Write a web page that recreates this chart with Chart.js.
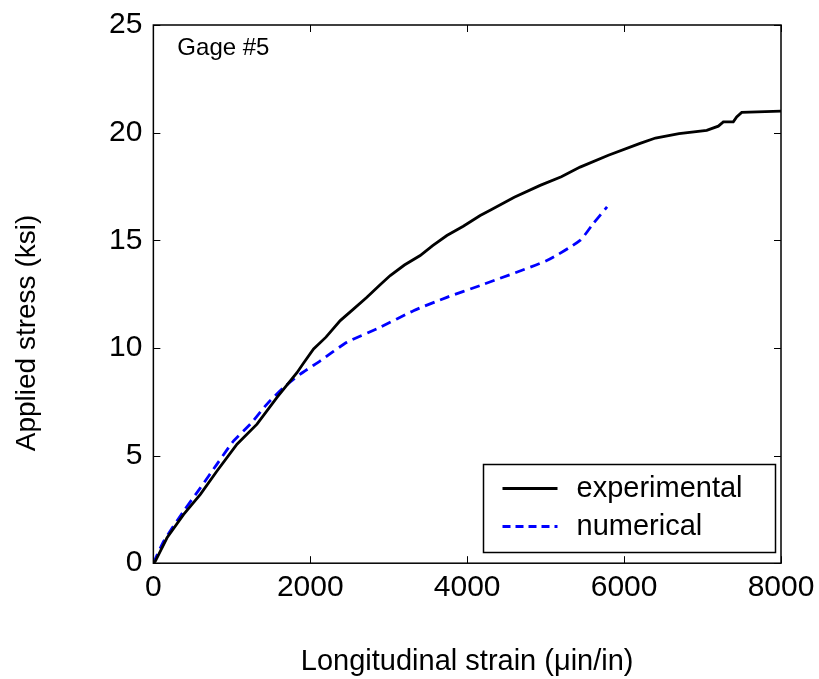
<!DOCTYPE html>
<html>
<head>
<meta charset="utf-8">
<script src="https://cdn.jsdelivr.net/npm/chart.js@4"></script>
<style>
  html, body { margin: 0; padding: 0; background: #fff; }
  #wrap { width: 819px; height: 679px; }
</style>
</head>
<body>
<div id="wrap"><canvas id="c" width="819" height="679"></canvas></div>
<script>
// data
const expStrain = [0, 25, 174, 386, 599, 811, 1066, 1321, 1576, 1830, 1915, 2042, 2200, 2382, 2550, 2722, 2880, 3019, 3200, 3401, 3560, 3741, 3950, 4166, 4293, 4600, 4930, 5200, 5439, 5800, 6204, 6400, 6700, 7053, 7201, 7265, 7392, 7435, 7499, 8000];
const expStress = [0, 0.09, 1.18, 2.27, 3.2, 4.28, 5.53, 6.46, 7.7, 8.85, 9.3, 9.95, 10.5, 11.27, 11.8, 12.35, 12.9, 13.36, 13.85, 14.29, 14.75, 15.22, 15.65, 16.15, 16.39, 17.0, 17.55, 17.95, 18.4, 18.95, 19.5, 19.75, 19.95, 20.11, 20.3, 20.5, 20.5, 20.73, 20.94, 21.0];
const numStrain = [0, 132, 386, 599, 811, 1023, 1236, 1448, 1660, 1873, 2127, 2467, 2892, 3316, 3741, 4166, 5015, 5439, 5605, 5783];
const numStress = [0, 1.02, 2.42, 3.5, 4.6, 5.68, 6.46, 7.39, 8.16, 8.78, 9.4, 10.26, 10.96, 11.73, 12.35, 12.9, 14.06, 15.0, 15.77, 16.55];
const xTicks = [0, 2000, 4000, 6000, 8000];
const yTicks = [0, 5, 10, 15, 20, 25];
const yTitle = 'Applied stress (ksi)';

const toPts = (xs, ys) => xs.map((x, i) => ({ x, y: ys[i] }));
const FONT = 'Liberation Sans, Arial, sans-serif';

// box around the plot, inward ticks on all sides, y title (sits low in the original), corner label and legend
const frame = {
  id: 'frame',
  afterDraw(chart) {
    const { ctx, chartArea: a, scales: { x, y } } = chart;
    ctx.save();
    ctx.strokeStyle = '#000';
    ctx.lineWidth = 1.5;
    ctx.strokeRect(a.left, a.top, a.right - a.left, a.bottom - a.top);
    ctx.lineWidth = 1;
    const t = 7;
    xTicks.forEach(v => {
      const px = Math.round(x.getPixelForValue(v)) + 0.5;
      ctx.beginPath();
      ctx.moveTo(px, a.bottom); ctx.lineTo(px, a.bottom - t);
      ctx.moveTo(px, a.top); ctx.lineTo(px, a.top + t);
      ctx.stroke();
    });
    yTicks.forEach(v => {
      const py = Math.round(y.getPixelForValue(v)) + 0.5;
      ctx.beginPath();
      ctx.moveTo(a.left, py); ctx.lineTo(a.left + t, py);
      ctx.moveTo(a.right, py); ctx.lineTo(a.right - t, py);
      ctx.stroke();
    });
    ctx.fillStyle = '#000';
    ctx.textBaseline = 'middle';

    // y axis title
    ctx.save();
    ctx.translate(27, 333);
    ctx.rotate(-Math.PI / 2);
    ctx.textAlign = 'center';
    ctx.font = '28px ' + FONT;
    ctx.fillText(yTitle, 0, 0);
    ctx.restore();

    ctx.font = '24px ' + FONT;
    ctx.fillText('Gage #5', a.left + 24, a.top + 23);

    // legend
    const bx = 483.5, by = 464.5, bw = 292, bh = 88;
    ctx.fillStyle = '#fff';
    ctx.fillRect(bx, by, bw, bh);
    ctx.lineWidth = 1.5;
    ctx.strokeRect(bx, by, bw, bh);
    ctx.font = '29px ' + FONT;
    chart.data.datasets.forEach((ds, i) => {
      const ly = by + 24 + i * 38;
      ctx.strokeStyle = ds.borderColor;
      ctx.lineWidth = ds.borderWidth;
      ctx.setLineDash(ds.borderDash ? [8, 5] : []);
      ctx.beginPath();
      ctx.moveTo(bx + 19, ly); ctx.lineTo(bx + 74, ly);
      ctx.stroke();
      ctx.setLineDash([]);
      ctx.fillStyle = '#000';
      ctx.fillText(ds.label, bx + 93, ly);
    });
    ctx.restore();
  }
};

new Chart(document.getElementById('c').getContext('2d'), {
  type: 'scatter',
  data: {
    datasets: [
      { label: 'experimental', data: toPts(expStrain, expStress), showLine: true, borderColor: '#000', borderWidth: 2.8, pointRadius: 0, tension: 0 },
      { label: 'numerical', data: toPts(numStrain, numStress), showLine: true, borderColor: '#0000ff', borderWidth: 2.8, borderDash: [10, 6], pointRadius: 0, tension: 0.2 }
    ]
  },
  options: {
    responsive: false,
    animation: false,
    layout: { padding: { left: 98, right: 38, top: 25, bottom: 0 } },
    plugins: { legend: { display: false }, tooltip: { enabled: false } },
    scales: {
      x: {
        type: 'linear', min: 0, max: 8000,
        afterBuildTicks: s => { s.ticks = xTicks.map(v => ({ value: v })); },
        afterFit: s => { s.paddingRight = 0; },
        grid: { display: false, drawTicks: false },
        border: { display: false },
        ticks: { color: '#000', font: { size: 30, family: FONT }, padding: 7, maxRotation: 0, callback: v => String(v) },
        title: { display: true, text: 'Longitudinal strain (\u03bcin/in)', color: '#000', font: { size: 29, family: FONT }, padding: { top: 31, bottom: 0 } }
      },
      y: {
        type: 'linear', min: 0, max: 25,
        afterBuildTicks: s => { s.ticks = yTicks.map(v => ({ value: v })); },
        afterFit: s => { s.paddingTop = 0; },
        grid: { display: false, drawTicks: false },
        border: { display: false },
        ticks: { color: '#000', font: { size: 30, family: FONT }, padding: 11, callback: v => String(v) }
      }
    }
  },
  plugins: [frame]
});
</script>
</body>
</html>
